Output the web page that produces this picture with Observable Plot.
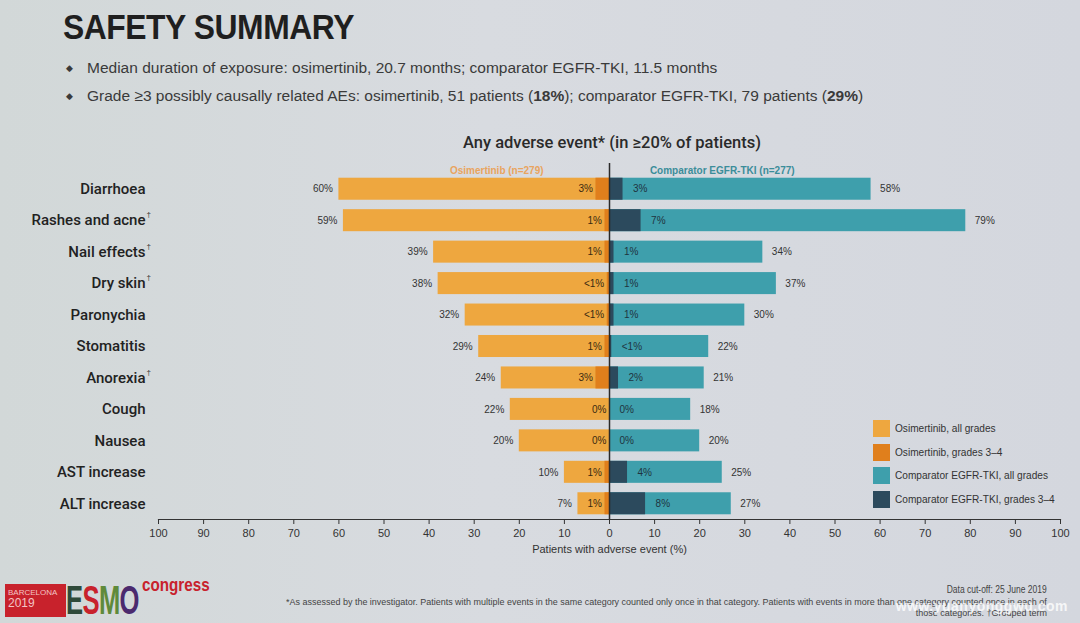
<!DOCTYPE html>
<html>
<head>
<meta charset="utf-8">
<script src="https://cdn.jsdelivr.net/npm/d3@7"></script>
<script src="https://cdn.jsdelivr.net/npm/@observablehq/plot@0.6"></script>
<style>
  body { margin: 0; }
  #page { position: relative; width: 1080px; height: 623px; overflow: hidden;
    background: linear-gradient(90deg, #d2d8d8 0%, #d8dbe0 45%, #d4d7de 100%);
    font-family: "Liberation Sans", Arial, sans-serif; color: #2a2a2a; }
  .abs { position: absolute; white-space: nowrap; }
  #title { left: 63px; top: 7px; font-size: 35px; font-weight: bold; color: #1f1f1f; letter-spacing: -0.5px; transform: scaleX(0.91); transform-origin: left; }
  .bullet { left: 66px; font-size: 15.5px; color: #3a3a3a; }
  .bullet .dot { display: inline-block; width: 21px; font-size: 9px; vertical-align: 2px; }
  #ctitle { left: 612px; top: 133px; transform: translateX(-50%); font-family: Roboto, sans-serif; font-weight: 500; font-size: 16.5px; color: #2a2a2a; }
  #chart { left: 0; top: 150px; }
  .leg { left: 873px; font-family: "Liberation Sans Narrow", "Liberation Sans", sans-serif; font-size: 11px; color: #333; }
  .leg .sw { position: absolute; left: 0; top: 0; width: 17px; height: 17px; }
  .leg span.t { position: absolute; left: 22px; top: 2px; transform: scaleX(0.92); transform-origin: left; }
  .foot { font-family: "Liberation Sans Narrow", "Liberation Sans", sans-serif; font-size: 9.5px; color: #444; right: 33px; transform-origin: right; }
</style>
</head>
<body>
<div id="page">
  <div id="title" class="abs">SAFETY SUMMARY</div>
  <div id="b1" class="abs bullet" style="top:59px"></div>
  <div id="b2" class="abs bullet" style="top:87px"></div>
  <div id="ctitle" class="abs">Any adverse event* (in ≥20% of patients)</div>
  <div id="chart" class="abs"></div>
  <div id="legend"></div>
  <div class="abs foot" style="top:584px; font-size:10px; transform:scaleX(0.85)">Data cut-off: 25 June 2019</div>
  <div class="abs foot" style="top:596px; transform:scaleX(0.944)">*As assessed by the investigator. Patients with multiple events in the same category counted only once in that category. Patients with events in more than one category counted once in each of</div>
  <div class="abs foot" style="top:607px; transform:scaleX(0.944)">those categories. †Grouped term</div>
  <div class="abs" style="right:12px; top:598px; font-family:'Liberation Sans',sans-serif; font-weight:bold; font-size:14px; color:rgba(255,255,255,0.8); letter-spacing:0.5px">www.yuanyonggwu.com</div>
  <!-- congress logo -->
  <div class="abs" style="left:5px; top:584px; width:61px; height:33px; background:#c8222c;"></div>
  <div class="abs" style="left:8px; top:588px; font-size:8px; line-height:10px; color:#f3c4c4;">BARCELONA<br><span style="font-size:12px">2019</span></div>
  <div class="abs" style="left:66px; top:580px; font-family:'Liberation Sans',sans-serif; font-weight:bold; font-size:40px; line-height:40px; letter-spacing:-1px; transform:scaleX(0.64); transform-origin:left">
    <span style="color:#2f4a3a">E</span><span style="color:#c8222c">S</span><span style="color:#5f8a3a">M</span><span style="color:#4b2a6e">O</span>
  </div>
  <div class="abs" style="left:142px; top:574px; font-family:'Liberation Sans',sans-serif; font-weight:bold; font-size:19px; color:#c8222c; transform:scaleX(0.8); transform-origin:left">congress</div>
</div>
<script>
// ---- data ----
const categories = ["Diarrhoea", "Rashes and acne", "Nail effects", "Dry skin", "Paronychia",
  "Stomatitis", "Anorexia", "Cough", "Nausea", "AST increase", "ALT increase"];
const groupedTerm = [false, true, true, true, false, false, true, false, false, false, false];
const osiAll = [60, 59, 39, 38, 32, 29, 24, 22, 20, 10, 7];
const osiG34 = [3, 1, 1, 0.5, 0.5, 1, 3, 0, 0, 1, 1];
const osiG34Labels = ["3%", "1%", "1%", "<1%", "<1%", "1%", "3%", "0%", "0%", "1%", "1%"];
const compAll = [58, 79, 34, 37, 30, 22, 21, 18, 20, 25, 27];
const compG34 = [3, 7, 1, 1, 1, 0.5, 2, 0, 0, 4, 8];
const compG34Labels = ["3%", "7%", "1%", "1%", "1%", "<1%", "2%", "0%", "0%", "4%", "8%"];
const xTicks = [-100, -90, -80, -70, -60, -50, -40, -30, -20, -10, 0, 10, 20, 30, 40, 50, 60, 70, 80, 90, 100];
const seriesNames = ["Osimertinib, all grades", "Osimertinib, grades 3–4",
  "Comparator EGFR-TKI, all grades", "Comparator EGFR-TKI, grades 3–4"];
const seriesColors = ["#eea73f", "#e07f1c", "#3e9fac", "#2c4a5d"];
const armLabels = ["Osimertinib (n=279)", "Comparator EGFR-TKI (n=277)"];
const armLabelX = [-25, 25];
const armLabelColors = ["#e9a45e", "#3b8d9a"];

// header bullets
document.getElementById("b1").innerHTML = '<span class="dot">◆</span>Median duration of exposure: osimertinib, 20.7 months; comparator EGFR-TKI, 11.5 months';
document.getElementById("b2").innerHTML = '<span class="dot">◆</span>Grade ≥3 possibly causally related AEs: osimertinib, 51 patients (<b>18%</b>); comparator EGFR-TKI, 79 patients (<b>29%</b>)';

const rows = categories.map((c, i) => ({
  cat: c, grouped: groupedTerm[i],
  osiAll: osiAll[i], osiG34: osiG34[i], osiG34Label: osiG34Labels[i],
  compAll: compAll[i], compG34: compG34[i], compG34Label: compG34Labels[i]
}));

const narrow = "'Liberation Sans Narrow', 'Liberation Sans', sans-serif";
const arms = armLabels.map((t, i) => ({t, x: armLabelX[i], c: armLabelColors[i]}));

const chart = Plot.plot({
  width: 1080, height: 415,
  marginLeft: 158, marginRight: 20, marginTop: 23, marginBottom: 46,
  style: {background: "transparent", fontFamily: narrow, overflow: "visible"},
  x: {domain: [-100, 100]},
  y: {domain: categories, paddingInner: 0.3, paddingOuter: 0.15, round: false, axis: null},
  marks: [
    Plot.barX(rows, {y: "cat", x1: 0, x2: d => -d.osiAll, fill: seriesColors[0]}),
    Plot.barX(rows.filter(d => d.osiG34 > 0), {y: "cat", x1: 0, x2: d => -d.osiG34, fill: seriesColors[1]}),
    Plot.barX(rows, {y: "cat", x1: 0, x2: "compAll", fill: seriesColors[2]}),
    Plot.barX(rows.filter(d => d.compG34 > 0), {y: "cat", x1: 0, x2: "compG34", fill: seriesColors[3]}),
    Plot.ruleX([0], {stroke: "#2a2a2a", strokeWidth: 1.5, insetTop: -10}),
    Plot.frame({anchor: "bottom", stroke: "#333", strokeWidth: 1.2}),
    Plot.axisX({ticks: xTicks, tickFormat: d => Math.abs(d), tickSize: 5, tickPadding: 5,
      fontSize: 11, stroke: "#333", color: "#333", label: null}),
    Plot.text(["Patients with adverse event (%)"], {x: 0, frameAnchor: "bottom", dy: 33, text: d => d,
      fontSize: 11, fill: "#333"}),
    // category labels
    Plot.text(rows, {y: "cat", text: "cat", frameAnchor: "left", dx: -13, textAnchor: "end",
      fontSize: 15, fontFamily: "Roboto, sans-serif", fontWeight: 500, fill: "#222"}),
    Plot.text(rows.filter(d => d.grouped), {y: "cat", text: () => "†", frameAnchor: "left", dx: -12, dy: -6,
      textAnchor: "start", fontSize: 8, fill: "#333"}),
    // value labels
    Plot.text(rows, {y: "cat", x: d => -d.osiAll, text: d => d.osiAll + "%", dx: -6, textAnchor: "end", fontSize: 10, fill: "#333"}),
    Plot.text(rows, {y: "cat", x: "compAll", text: d => d.compAll + "%", dx: 9, textAnchor: "start", fontSize: 10, fill: "#333"}),
    Plot.text(rows, {y: "cat", x: d => -d.osiG34, text: "osiG34Label", dx: -3, textAnchor: "end", fontSize: 10, fill: "#3a2a10"}),
    Plot.text(rows, {y: "cat", x: "compG34", text: "compG34Label", dx: 10, textAnchor: "start", fontSize: 10, fill: "#1f3440"}),
    // arm labels
    Plot.text(arms, {x: "x", text: "t", fill: "c", frameAnchor: "top", dy: -7, fontSize: 10, fontWeight: "bold"})
  ]
});
document.getElementById("chart").appendChild(chart);

// legend
const legendTops = [420, 444, 467, 491];
const leg = document.getElementById("legend");
seriesNames.forEach((n, i) => {
  const d = document.createElement("div");
  d.className = "abs leg";
  d.style.top = legendTops[i] + "px";
  d.innerHTML = `<div class="sw" style="background:${seriesColors[i]}"></div><span class="t">${n}</span>`;
  leg.appendChild(d);
});
</script>
</body>
</html>
